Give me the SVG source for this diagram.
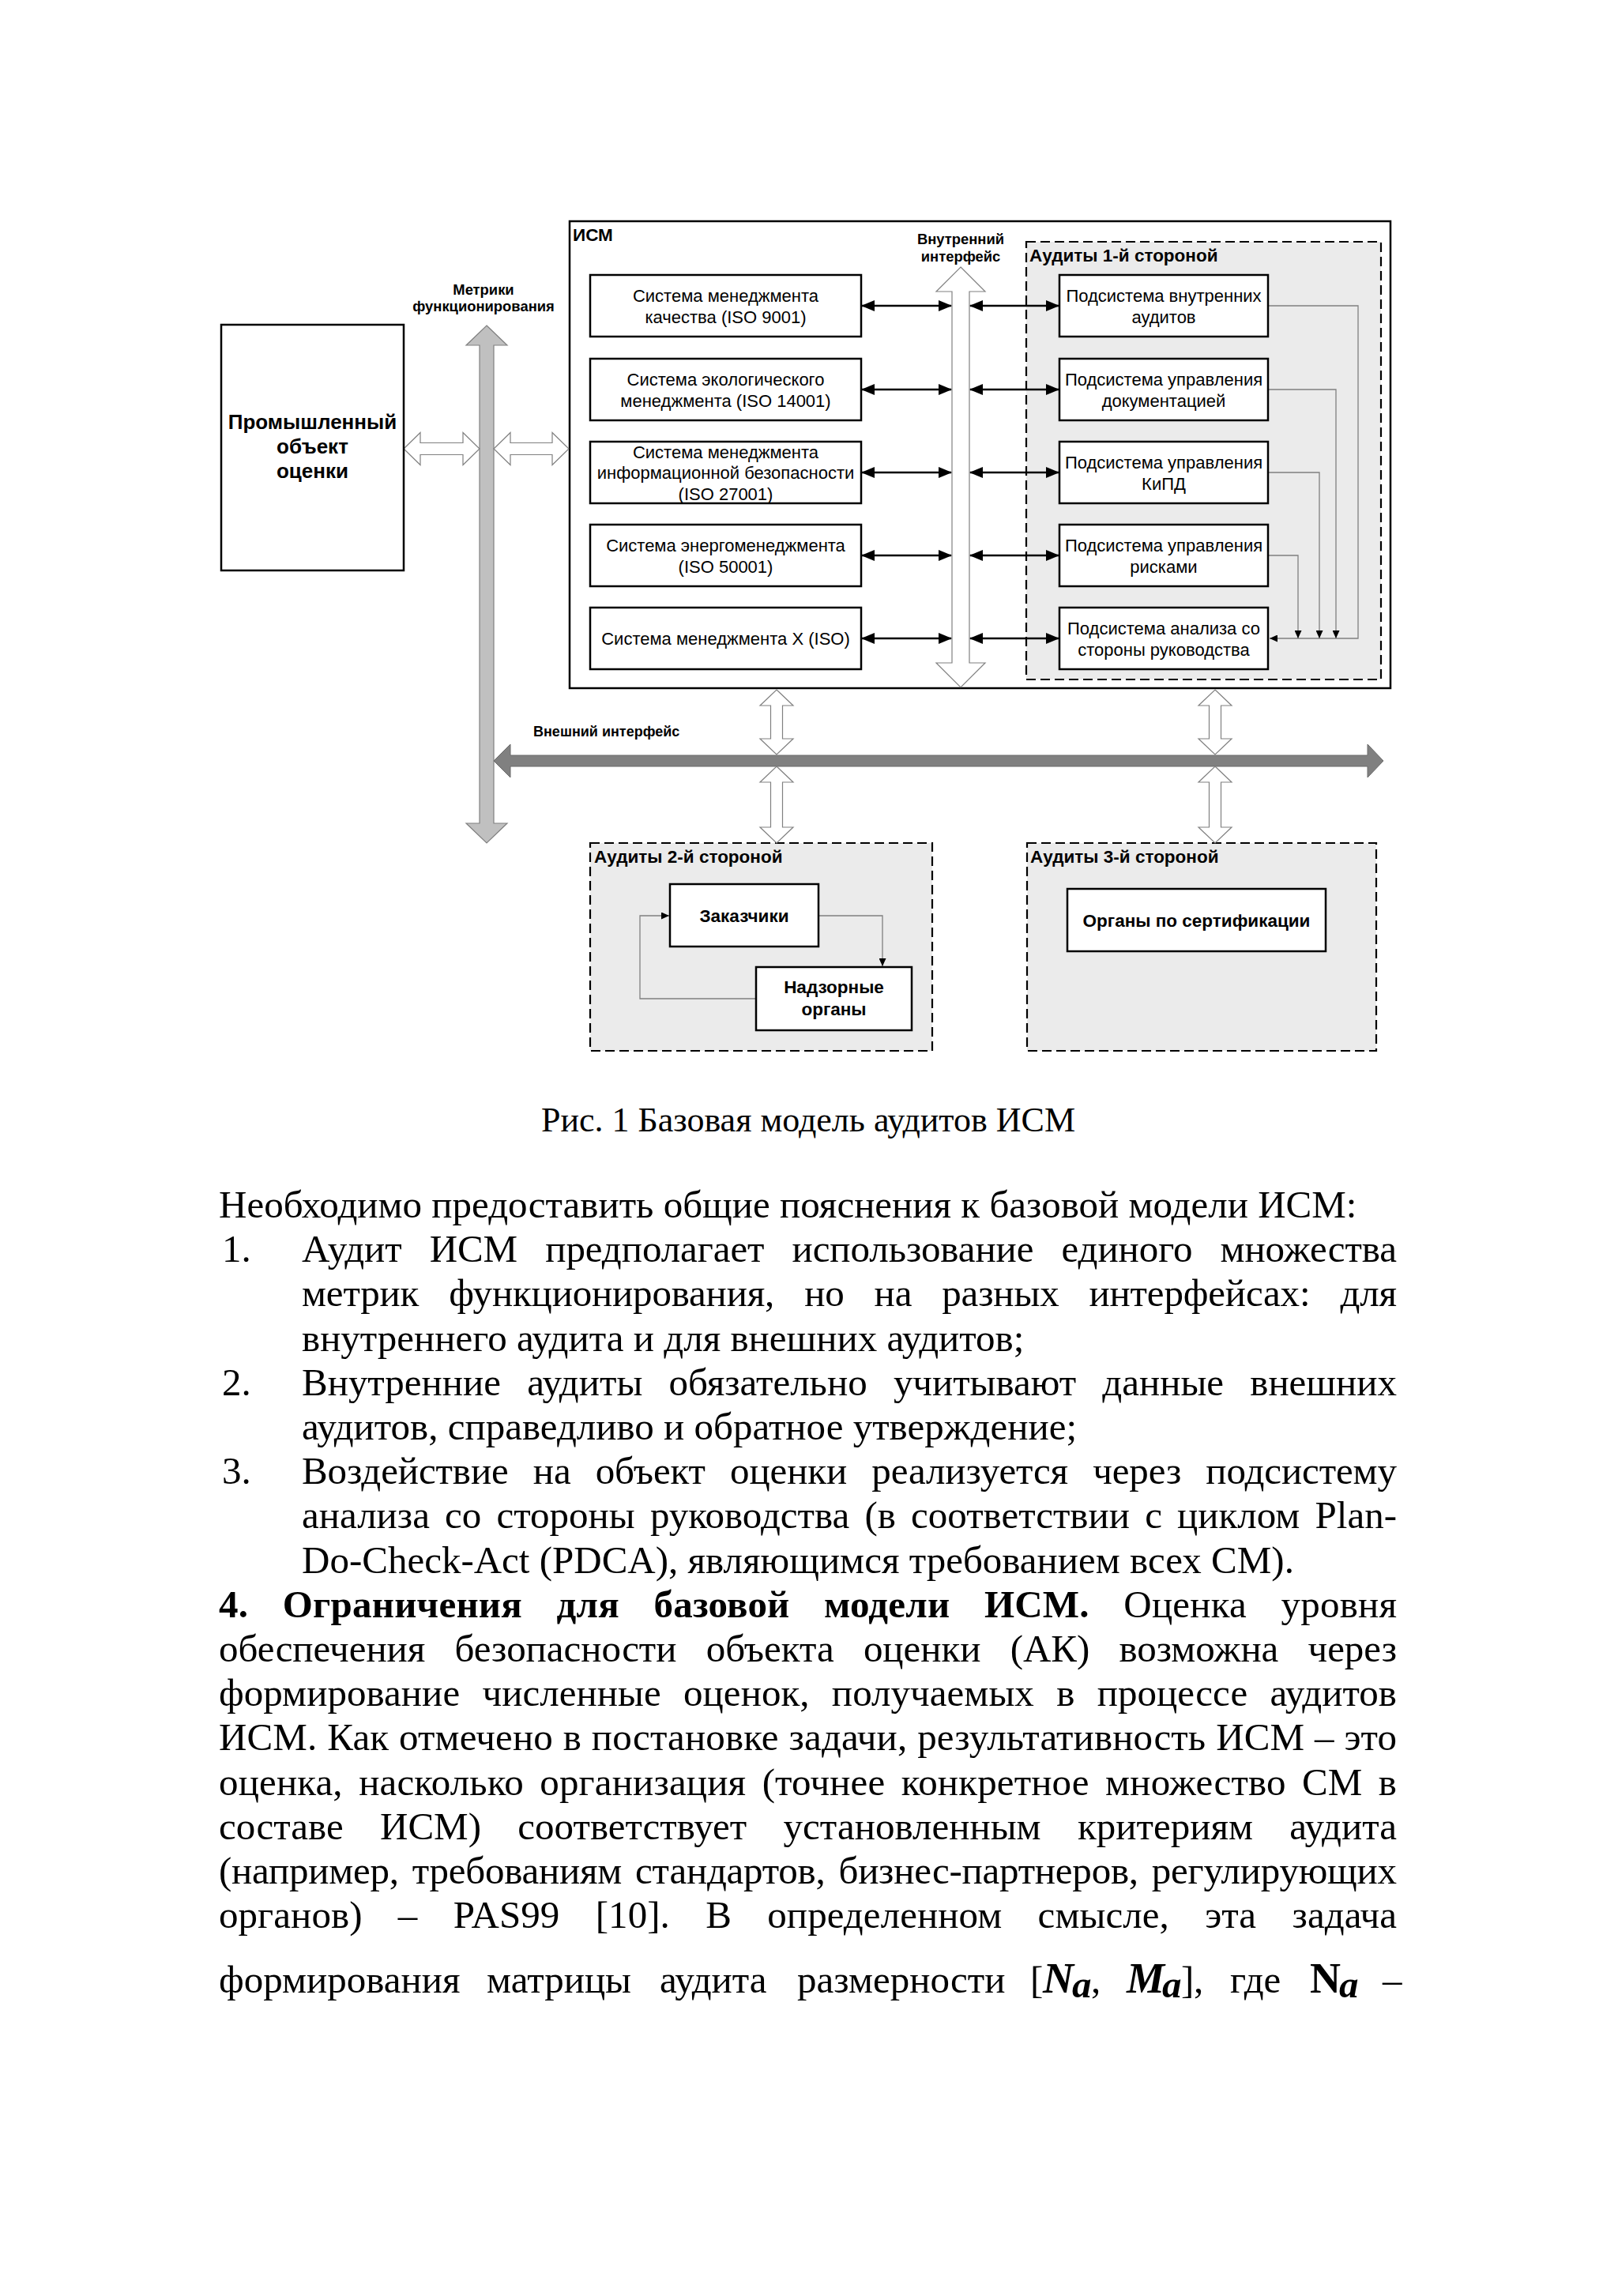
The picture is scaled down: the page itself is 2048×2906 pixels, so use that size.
<svg xmlns="http://www.w3.org/2000/svg" width="2048" height="2906" viewBox="0 0 2048 2906">
<defs>
<style>
.box{fill:#fff;stroke:#000;stroke-width:2.5}
.dash{fill:#ebebeb;stroke:#000;stroke-width:2.2;stroke-dasharray:12 6}
.wa{fill:#fff;stroke:#808080;stroke-width:1.2}
.ga{fill:#c0c0c0;stroke:#808080;stroke-width:1.2}
.da{fill:#808080;stroke:#6a6a6a;stroke-width:1}
.bl{stroke:#000;stroke-width:2.5;fill:none;marker-start:url(#ah);marker-end:url(#ah)}
.fb{stroke:#808080;stroke-width:1.3;fill:none}
.t22{font-family:"Liberation Sans",Arial,sans-serif;font-size:22px;text-anchor:middle;fill:#000}
.lb{font-family:"Liberation Sans",Arial,sans-serif;font-weight:bold;font-size:22.5px;fill:#000}
.lbc{font-family:"Liberation Sans",Arial,sans-serif;font-weight:bold;font-size:18.4px;text-anchor:middle;fill:#000}
.ext{font-family:"Liberation Sans",Arial,sans-serif;font-weight:bold;font-size:18px;fill:#000}
.nb{font-family:"Liberation Sans",Arial,sans-serif;font-weight:bold;font-size:22.5px;text-anchor:middle;fill:#000}
.body{font-family:"Liberation Serif","Times New Roman",serif;font-size:49px;fill:#000}
.cap{font-family:"Liberation Serif","Times New Roman",serif;font-size:44px;fill:#000;text-anchor:middle}
.bi{font-weight:bold;font-style:italic}
</style>
<marker id="ah" markerUnits="userSpaceOnUse" markerWidth="17" markerHeight="14" refX="16" refY="7" orient="auto-start-reverse"><path d="M0,0 L17,7 L0,14 z" fill="#000"/></marker>
<marker id="sh" markerUnits="userSpaceOnUse" markerWidth="10" markerHeight="9" refX="10" refY="4.5" orient="auto"><path d="M0,0 L10,4.5 L0,9 z" fill="#000"/></marker>
</defs>
<rect width="2048" height="2906" fill="#fff"/>

<g id="ism">
<rect class="box" x="721" y="280" width="1039" height="591"/>
<text class="lb" x="725" y="305">ИСМ</text>
</g>
<g id="audit1">
<rect class="dash" x="1299" y="306" width="449" height="554"/>
<text class="lb" x="1303" y="331">Аудиты 1-й стороной</text>
</g>
<g id="audit2">
<rect class="dash" x="747" y="1067" width="433" height="263"/>
<text class="lb" x="752" y="1092">Аудиты 2-й стороной</text>
</g>
<g id="audit3">
<rect class="dash" x="1300" y="1067" width="442" height="263"/>
<text class="lb" x="1304" y="1092">Аудиты 3-й стороной</text>
</g>

<g id="connectors">
<polygon class="ga" points="616,412 642,437 625,437 625,1042 642,1042 616,1067 590,1042 607,1042 607,437 590,437"/>
<polygon class="wa" points="511,568 532,547.5 532,560.5 586,560.5 586,547.5 607,568 586,588.5 586,575.5 532,575.5 532,588.5"/>
<polygon class="wa" points="625,568 646,547.5 646,560.5 699,560.5 699,547.5 720,568 699,588.5 699,575.5 646,575.5 646,588.5"/>
<polygon class="wa" points="1216,338 1247,369 1227,369 1227,839 1247,839 1216,870 1185,839 1205,839 1205,369 1185,369"/>
<polygon class="da" points="625,963 646,942 646,956 1731,956 1731,942 1751,963 1731,984 1731,970 646,970 646,984"/>
<polygon class="wa" points="983,873 1004,893 990.5,893 990.5,935 1004,935 983,955 962,935 975.5,935 975.5,893 962,893"/>
<polygon class="wa" points="983,970 1004,990 990.5,990 990.5,1047 1004,1047 983,1067 962,1047 975.5,1047 975.5,990 962,990"/>
<polygon class="wa" points="1538,873 1559,893 1545.5,893 1545.5,935 1559,935 1538,955 1517,935 1530.5,935 1530.5,893 1517,893"/>
<polygon class="wa" points="1538,970 1559,990 1545.5,990 1545.5,1047 1559,1047 1538,1067 1517,1047 1530.5,1047 1530.5,990 1517,990"/>
<line class="bl" x1="1091" y1="387" x2="1204" y2="387"/>
<line class="bl" x1="1091" y1="493" x2="1204" y2="493"/>
<line class="bl" x1="1091" y1="598" x2="1204" y2="598"/>
<line class="bl" x1="1091" y1="703" x2="1204" y2="703"/>
<line class="bl" x1="1091" y1="808" x2="1204" y2="808"/>
<line class="bl" x1="1228" y1="387" x2="1340" y2="387"/>
<line class="bl" x1="1228" y1="493" x2="1340" y2="493"/>
<line class="bl" x1="1228" y1="598" x2="1340" y2="598"/>
<line class="bl" x1="1228" y1="703" x2="1340" y2="703"/>
<line class="bl" x1="1228" y1="808" x2="1340" y2="808"/>
<polyline class="fb" points="1606,387 1719,387 1719,808 1607,808" marker-end="url(#sh)"/>
<polyline class="fb" points="1606,493 1691,493 1691,808" marker-end="url(#sh)"/>
<polyline class="fb" points="1606,598 1670,598 1670,808" marker-end="url(#sh)"/>
<polyline class="fb" points="1606,703 1643,703 1643,808" marker-end="url(#sh)"/>
<polyline class="fb" points="1036,1159 1117,1159 1117,1223" marker-end="url(#sh)"/>
<polyline class="fb" points="957,1264 810,1264 810,1159 847,1159" marker-end="url(#sh)"/>
</g>

<g id="object">
<rect class="box" x="280" y="411" width="231" height="311"/>
<text font-family="Liberation Sans, Arial, sans-serif" font-weight="bold" font-size="26" text-anchor="middle"><tspan x="395.5" y="543">Промышленный</tspan><tspan x="395.5" y="574">объект</tspan><tspan x="395.5" y="605">оценки</tspan></text>
</g>
<g id="metrics-label">
<text class="lbc"><tspan x="612" y="373">Метрики</tspan><tspan x="612" y="394">функционирования</tspan></text>
</g>
<g id="internal-label">
<text class="lbc"><tspan x="1216" y="309">Внутренний</tspan><tspan x="1216" y="331">интерфейс</tspan></text>
</g>
<g id="external-label">
<text class="ext" x="675" y="932">Внешний интерфейс</text>
</g>

<g id="sys1"><rect class="box" x="747" y="348" width="343" height="78"/><text class="t22"><tspan x="918.5" y="382">Система менеджмента</tspan><tspan x="918.5" y="408.5">качества (ISO 9001)</tspan></text></g>
<g id="sys2"><rect class="box" x="747" y="454" width="343" height="78"/><text class="t22"><tspan x="918.5" y="488">Система экологического</tspan><tspan x="918.5" y="514.5">менеджмента (ISO 14001)</tspan></text></g>
<g id="sys3"><rect class="box" x="747" y="559" width="343" height="78"/><text class="t22"><tspan x="918.5" y="579.5">Система менеджмента</tspan><tspan x="918.5" y="606">информационной безопасности</tspan><tspan x="918.5" y="632.5">(ISO 27001)</tspan></text></g>
<g id="sys4"><rect class="box" x="747" y="664" width="343" height="78"/><text class="t22"><tspan x="918.5" y="698">Система энергоменеджмента</tspan><tspan x="918.5" y="724.5">(ISO 50001)</tspan></text></g>
<g id="sys5"><rect class="box" x="747" y="769" width="343" height="78"/><text class="t22" x="918.5" y="816">Система менеджмента X (ISO)</text></g>

<g id="sub1"><rect class="box" x="1341" y="348" width="264" height="78"/><text class="t22"><tspan x="1473" y="382">Подсистема внутренних</tspan><tspan x="1473" y="408.5">аудитов</tspan></text></g>
<g id="sub2"><rect class="box" x="1341" y="454" width="264" height="78"/><text class="t22"><tspan x="1473" y="488">Подсистема управления</tspan><tspan x="1473" y="514.5">документацией</tspan></text></g>
<g id="sub3"><rect class="box" x="1341" y="559" width="264" height="78"/><text class="t22"><tspan x="1473" y="593">Подсистема управления</tspan><tspan x="1473" y="619.5">КиПД</tspan></text></g>
<g id="sub4"><rect class="box" x="1341" y="664" width="264" height="78"/><text class="t22"><tspan x="1473" y="698">Подсистема управления</tspan><tspan x="1473" y="724.5">рисками</tspan></text></g>
<g id="sub5"><rect class="box" x="1341" y="769" width="264" height="78"/><text class="t22"><tspan x="1473" y="803">Подсистема анализа со</tspan><tspan x="1473" y="829.5">стороны руководства</tspan></text></g>

<g id="customers"><rect class="box" x="848" y="1119" width="188" height="79"/><text class="nb" x="942" y="1167">Заказчики</text></g>
<g id="supervisors"><rect class="box" x="957" y="1224" width="197" height="80"/><text class="nb"><tspan x="1055.5" y="1257">Надзорные</tspan><tspan x="1055.5" y="1285">органы</tspan></text></g>
<g id="certbodies"><rect class="box" x="1351" y="1125" width="327" height="79"/><text class="nb" x="1514.5" y="1173">Органы по сертификации</text></g>

<g id="caption"><text class="cap" x="1023" y="1432">Рис. 1 Базовая модель аудитов ИСМ</text></g>

<g id="body">
<text class="body" x="277" y="1541">Необходимо предоставить общие пояснения к базовой модели ИСМ:</text>
<text class="body" x="281" y="1597">1.</text>
<text class="body" x="382" y="1597" word-spacing="23" textLength="1386" lengthAdjust="spacing">Аудит ИСМ предполагает использование единого множества</text>
<text class="body" x="382" y="1653" word-spacing="26" textLength="1386" lengthAdjust="spacing">метрик функционирования, но на разных интерфейсах: для</text>
<text class="body" x="382" y="1710">внутреннего аудита и для внешних аудитов;</text>
<text class="body" x="281" y="1766">2.</text>
<text class="body" x="382" y="1766" word-spacing="21" textLength="1386" lengthAdjust="spacing">Внутренние аудиты обязательно учитывают данные внешних</text>
<text class="body" x="382" y="1822">аудитов, справедливо и обратное утверждение;</text>
<text class="body" x="281" y="1878">3.</text>
<text class="body" x="382" y="1878" word-spacing="19" textLength="1386" lengthAdjust="spacing">Воздействие на объект оценки реализуется через подсистему</text>
<text class="body" x="382" y="1934" word-spacing="7" textLength="1386" lengthAdjust="spacing">анализа со стороны руководства (в соответствии с циклом Plan-</text>
<text class="body" x="382" y="1991">Do-Check-Act (PDCA), являющимся требованием всех СМ).</text>
<text class="body" x="277" y="2047" word-spacing="31" textLength="1491" lengthAdjust="spacing"><tspan font-weight="bold">4. Ограничения для базовой модели ИСМ.</tspan> Оценка уровня</text>
<text class="body" x="277" y="2103" word-spacing="25" textLength="1491" lengthAdjust="spacing">обеспечения безопасности объекта оценки (АК) возможна через</text>
<text class="body" x="277" y="2159" word-spacing="16" textLength="1491" lengthAdjust="spacing">формирование численные оценок, получаемых в процессе аудитов</text>
<text class="body" x="277" y="2215" word-spacing="0.5" textLength="1491" lengthAdjust="spacing">ИСМ. Как отмечено в постановке задачи, результативность ИСМ – это</text>
<text class="body" x="277" y="2272" word-spacing="8" textLength="1491" lengthAdjust="spacing">оценка, насколько организация (точнее конкретное множество СМ в</text>
<text class="body" x="277" y="2328" word-spacing="34" textLength="1491" lengthAdjust="spacing">составе ИСМ) соответствует установленным критериям аудита</text>
<text class="body" x="277" y="2384" word-spacing="5" textLength="1491" lengthAdjust="spacing">(например, требованиям стандартов, бизнес-партнеров, регулирующих</text>
<text class="body" x="277" y="2440" word-spacing="33" textLength="1491" lengthAdjust="spacing">органов) – PAS99 [10]. В определенном смысле, эта задача</text>
<text class="body"><tspan x="277" y="2522">формирования</tspan><tspan x="616" y="2522">матрицы</tspan><tspan x="835" y="2522">аудита</tspan><tspan x="1009" y="2522">размерности</tspan><tspan x="1304" y="2522">[</tspan><tspan class="bi" font-size="54" x="1320" y="2522">N</tspan><tspan class="bi" x="1357" y="2528">a</tspan><tspan x="1381" y="2522">,</tspan><tspan class="bi" font-size="54" x="1426" y="2522">M</tspan><tspan class="bi" x="1471" y="2528">a</tspan><tspan x="1495" y="2522">]</tspan><tspan x="1511" y="2522">,</tspan><tspan x="1557" y="2522">где</tspan><tspan font-weight="bold" font-size="54" x="1658" y="2522">N</tspan><tspan class="bi" x="1695" y="2528">a</tspan><tspan x="1750" y="2522">–</tspan></text>
</g>
</svg>
